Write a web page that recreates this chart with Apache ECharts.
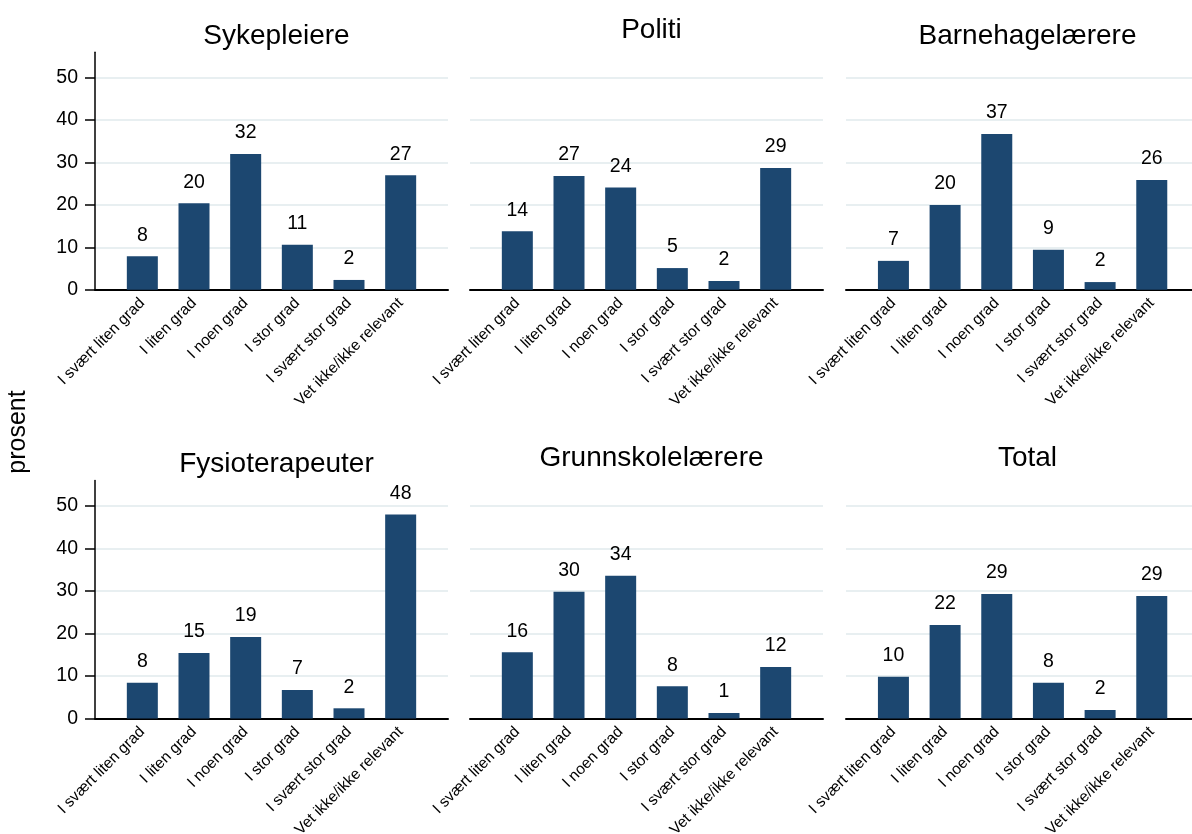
<!DOCTYPE html>
<html>
<head>
<meta charset="utf-8">
<script src="https://cdn.jsdelivr.net/npm/echarts@6/dist/echarts.min.js"></script>
<style>
html,body{margin:0;padding:0;background:#fff;}
#chart{width:1192px;height:834px;}
</style>
</head>
<body>
<div id="chart"></div>
<script>
const categories = ['I svært liten grad', 'I liten grad', 'I noen grad', 'I stor grad', 'I svært stor grad', 'Vet ikke/ikke relevant'];
const panelTitles = ['Sykepleiere', 'Politi', 'Barnehagelærere', 'Fysioterapeuter', 'Grunnskolelærere', 'Total'];
const sykepleiere = [7.9, 20.4, 32.0, 10.6, 2.3, 27.0];
const politi = [13.8, 26.8, 24.1, 5.1, 2.05, 28.7];
const barnehagelaerere = [6.8, 20.0, 36.7, 9.4, 1.8, 25.9];
const fysioterapeuter = [8.4, 15.4, 19.2, 6.7, 2.4, 48.0];
const grunnskolelaerere = [15.6, 29.8, 33.6, 7.6, 1.3, 12.1];
const total = [9.8, 22.0, 29.3, 8.4, 2.0, 28.8];
const yAxisTitle = 'prosent';
const yMax = 56;
const yTickMax = 50;
const yTickStep = 10;

const panelValues = [sykepleiere, politi, barnehagelaerere, fysioterapeuter, grunnskolelaerere, total];

const FONT = "'Liberation Sans', Arial, Helvetica, sans-serif";
const BAR = '#1c4770';
const GRID = '#e8eff1';

// layout
const outerLeft = [95, 470, 846];
const innerLeft = [116.5, 491.5, 867.6];
const outerWidth = 353;
const innerWidth = 310;
const zeroY = [289.7, 718.5];
const pxPerUnit = [4.24, 4.25];
const titleTop = [[17, 11, 17], [445, 439, 439]];

const grids = [], xAxes = [], yAxes = [], series = [], titles = [];

panelValues.forEach((vals, i) => {
  const r = Math.floor(i / 3), c = i % 3;
  const innerH = yMax * pxPerUnit[r];
  const outerH = yTickMax * pxPerUnit[r];
  const gOuter = grids.length;
  grids.push({left: outerLeft[c], top: zeroY[r] - outerH, width: outerWidth, height: outerH, containLabel: false, outerBoundsMode: 'none'});
  const gInner = grids.length;
  grids.push({left: innerLeft[c], top: zeroY[r] - innerH, width: innerWidth, height: innerH, containLabel: false, outerBoundsMode: 'none'});

  // outer axes: gridlines, ticks, labels, baseline
  xAxes.push({
    gridIndex: gOuter, type: 'category', data: [''], position: 'bottom',
    axisLine: {show: true, onZero: false, lineStyle: {color: '#000', width: 2}},
    axisTick: {show: false}, axisLabel: {show: false}, splitLine: {show: false}
  });
  yAxes.push({
    gridIndex: gOuter, type: 'value', min: 0, max: yTickMax, interval: yTickStep,
    axisLine: {show: false},
    axisTick: {show: c === 0, length: 10, lineStyle: {color: '#000', width: 1.5}},
    axisLabel: {show: c === 0, margin: 17, color: '#000', fontSize: 19.5, fontFamily: FONT},
    splitLine: {show: true, lineStyle: {color: GRID, width: 2}}
  });
  // inner axes: bars & category labels
  xAxes.push({
    gridIndex: gInner, type: 'category', data: categories,
    axisLine: {show: false}, axisTick: {show: false},
    axisLabel: {show: true, rotate: 45, interval: 0, margin: 11, color: '#000', fontSize: 15.5, fontFamily: FONT},
    splitLine: {show: false}
  });
  yAxes.push({
    gridIndex: gInner, type: 'value', min: 0, max: yMax, offset: innerLeft[c] - outerLeft[c],
    axisLine: {show: c === 0, lineStyle: {color: '#000', width: 1.5}},
    axisTick: {show: false}, axisLabel: {show: false}, splitLine: {show: false}
  });
  series.push({
    type: 'bar', xAxisIndex: xAxes.length - 1, yAxisIndex: yAxes.length - 1,
    data: vals, barWidth: 31, itemStyle: {color: BAR},
    label: {show: true, position: 'top', distance: 11, color: '#000', fontSize: 19.5, fontFamily: FONT,
      formatter: p => String(Math.round(p.value))},
    animation: false
  });
  titles.push({
    text: panelTitles[i], left: outerLeft[c] + outerWidth / 2, top: titleTop[r][c], textAlign: 'center',
    textStyle: {fontSize: 28, fontWeight: 'normal', color: '#000', fontFamily: FONT}
  });
});

const chart = echarts.init(document.getElementById('chart'), null, {renderer: 'canvas'});
chart.setOption({
  backgroundColor: '#fff',
  animation: false,
  title: titles,
  grid: grids,
  xAxis: xAxes,
  yAxis: yAxes,
  series: series,
  graphic: [{
    type: 'text', x: 18, y: 432, rotation: Math.PI / 2,
    style: {text: yAxisTitle, fontSize: 25, fontFamily: FONT, fill: '#000', textAlign: 'center', textVerticalAlign: 'middle'}
  }]
});
</script>
</body>
</html>
